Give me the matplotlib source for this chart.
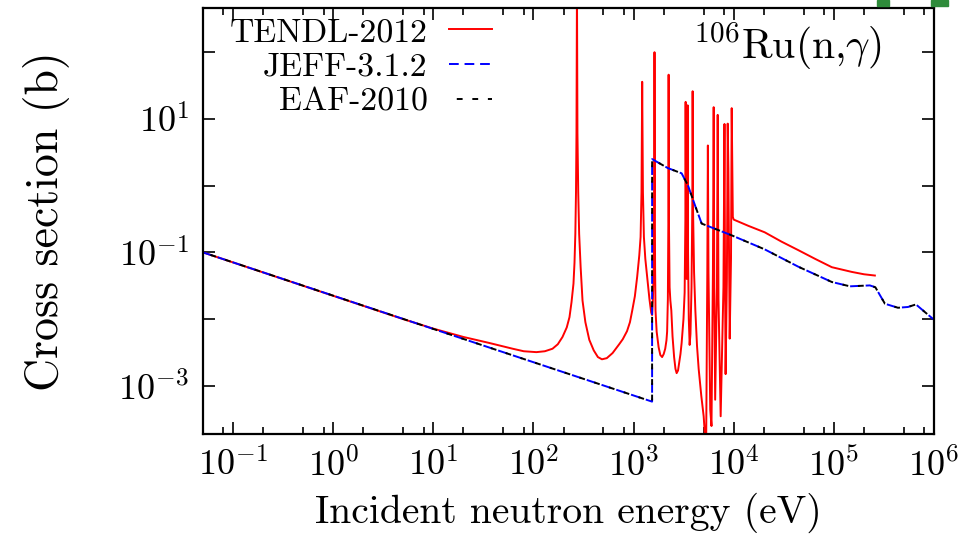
import matplotlib
matplotlib.use("Agg")
import matplotlib.pyplot as plt
from matplotlib.ticker import LogLocator, NullFormatter
from matplotlib.patches import Rectangle

plt.rcParams["font.family"] = "serif"
plt.rcParams["font.serif"] = ["cmr10"]
plt.rcParams["mathtext.fontset"] = "cm"
plt.rcParams["axes.formatter.use_mathtext"] = True

# TENDL-2012 (n,gamma), energy in eV, cross section in barn
tendl_e = [0.05, 0.5, 5, 10, 20, 36, 50, 62, 80, 107, 130, 155, 175, 195,
           215, 229, 240, 251, 257, 262, 266, 269, 272, 275, 280, 286, 296,
           309, 330, 361, 400, 440, 483, 540, 617, 718, 780, 860, 920, 970,
           1030, 1086, 1140, 1175, 1200, 1219, 1240, 1268, 1310, 1368, 1440,
           1500, 1531, 1560, 1590, 1610, 1618, 1628, 1640, 1656, 1700, 1778,
           1850, 1928, 2000, 2070, 2130, 2163, 2200, 2225, 2239, 2255, 2290,
           2330, 2382, 2450, 2540, 2620, 2692, 2780, 2850, 2940, 3020, 3150,
           3236, 3290, 3311, 3340, 3390, 3440, 3467, 3500, 3560, 3631, 3700,
           3790, 3860, 3890, 3930, 4020, 4140, 4300, 4467, 4750, 5012, 5300,
           5450, 5520, 5600, 5830, 6000, 6200, 6310, 6400, 6530, 6800, 6920,
           7050, 7410, 7900, 8090, 8200, 8300, 8550, 8710, 8850, 9000, 9120,
           9400, 9550, 9800, 10000, 14000, 20400, 30000, 44200, 65000, 95500,
           151000, 200000, 257000]
tendl_xs = [0.1, 0.0316, 0.0100, 0.0072, 0.0054, 0.0044, 0.0039, 0.0036,
            0.0033, 0.0032, 0.0033, 0.0036, 0.0042, 0.0054, 0.0075, 0.0107,
            0.018, 0.034, 0.07, 0.19, 0.8, 6.2, 1000, 6.2, 0.8, 0.19, 0.06,
            0.019, 0.009, 0.0049, 0.0034, 0.0027, 0.0025, 0.0026, 0.0031,
            0.0042, 0.0050, 0.0066, 0.0090, 0.0135, 0.022, 0.043, 0.09, 0.17,
            0.8, 36, 0.8, 0.17, 0.08, 0.043, 0.02, 0.0125, 0.0115, 0.02, 0.06,
            1.0, 100, 1.0, 0.06, 0.0135, 0.0065, 0.0038, 0.0029, 0.0027, 0.003,
            0.0036, 0.0048, 0.0065, 0.02, 0.3, 46, 0.3, 0.03, 0.019, 0.0135,
            0.0055, 0.0027, 0.0018, 0.00155, 0.0017, 0.0022, 0.003, 0.0044,
            0.01, 0.025, 0.3, 18, 0.3, 0.04, 0.3, 16, 0.1, 0.01, 0.0041, 0.006,
            0.03, 0.5, 26, 0.4, 0.05, 0.0135, 0.004, 0.0018, 0.0007, 0.00035,
            0.0001, 0.05, 4.0, 0.05, 0.00044, 0.00025, 0.05, 15, 0.03, 0.00062,
            0.03, 11.5, 0.02, 0.00035, 0.03, 8.4, 0.03, 0.0015, 0.04, 8.5, 1.8,
            0.05, 0.0051, 0.08, 14.5, 0.34, 0.31, 0.25, 0.2, 0.145, 0.108,
            0.08, 0.06, 0.051, 0.047, 0.045]

# JEFF-3.1.2 and EAF-2010 lie on top of each other
jeff_e = [0.05, 1531, 1532, 2190, 3020, 3500, 4140, 4790, 9550, 20400,
          44200, 95500, 145000, 229000, 260000, 324000, 437000, 550000,
          661000, 800000, 1e6]
jeff_xs = [0.1, 5.8e-4, 2.5, 1.84, 1.53, 1.0, 0.49, 0.27, 0.18, 0.111,
           0.061, 0.036, 0.031, 0.032, 0.030, 0.017, 0.0148, 0.0152, 0.0166,
           0.013, 0.0098]
eaf_e = list(jeff_e)
eaf_xs = list(jeff_xs)

xticks = [1e-1, 1e0, 1e1, 1e2, 1e3, 1e4, 1e5, 1e6]
xtick_labels = ["$10^{-1}$", "$10^{0}$", "$10^{1}$", "$10^{2}$",
                "$10^{3}$", "$10^{4}$", "$10^{5}$", "$10^{6}$"]
yticks = [1e-3, 1e-2, 1e-1, 1e0, 1e1, 1e2]
ytick_labels = ["$10^{-3}$", "", "$10^{-1}$", "", "$10^{1}$", ""]

fig = plt.figure(figsize=(9.8, 5.42), dpi=100)
ax = fig.add_axes([0.2071, 0.1993, 0.7459, 0.7860])

ax.plot(tendl_e, tendl_xs, color="red", lw=1.4, label="TENDL-2012")
ax.plot(jeff_e, jeff_xs, color="blue", lw=1.4, ls=(0, (5, 3)), label="JEFF-3.1.2")
ax.plot(eaf_e, eaf_xs, color="black", lw=1.4, ls=(4, (3, 5)), label="EAF-2010")

ax.set_xscale("log")
ax.set_yscale("log")
ax.set_xlim(0.05, 1e6)
ax.set_ylim(1.9e-4, 460)

ax.set_xticks(xticks)
ax.set_xticklabels(xtick_labels)
ax.xaxis.set_minor_locator(LogLocator(base=10, subs=(2, 5, 8), numticks=30))
ax.xaxis.set_minor_formatter(NullFormatter())
ax.set_yticks(yticks)
ax.set_yticklabels(ytick_labels)
ax.yaxis.set_minor_locator(LogLocator(base=10, subs=(), numticks=30))

ax.tick_params(which="both", direction="in", top=True, right=True,
               labelsize=26, width=1.2)
ax.tick_params(which="major", length=8.5, pad=10)
ax.tick_params(which="minor", length=5)
for s in ax.spines.values():
    s.set_linewidth(1.6)

ax.set_xlabel("Incident neutron energy (eV)", fontsize=28.5, labelpad=7)
ax.set_ylabel("Cross section (b)", fontsize=33, labelpad=35)

ax.legend(loc="upper left", markerfirst=False, frameon=False, fontsize=24.3,
          handlelength=1.27, handletextpad=0.64, labelspacing=0.15,
          borderaxespad=0.2, bbox_to_anchor=(0.009, 1.025))

ax.text(0.80, 0.91, r"$^{106}$Ru(n,$\gamma$)", transform=ax.transAxes,
        fontsize=30, ha="center", va="center")

# bits of a green logo cut off at the top right
fig.patches.append(Rectangle((877 / 980, 1 - 6 / 542), 12 / 980, 6 / 542,
                             transform=fig.transFigure, color="#2e8b3a"))
fig.patches.append(Rectangle((931 / 980, 1 - 6 / 542), 17 / 980, 6 / 542,
                             transform=fig.transFigure, color="#2e8b3a"))

fig.savefig("out.png", dpi=100)
